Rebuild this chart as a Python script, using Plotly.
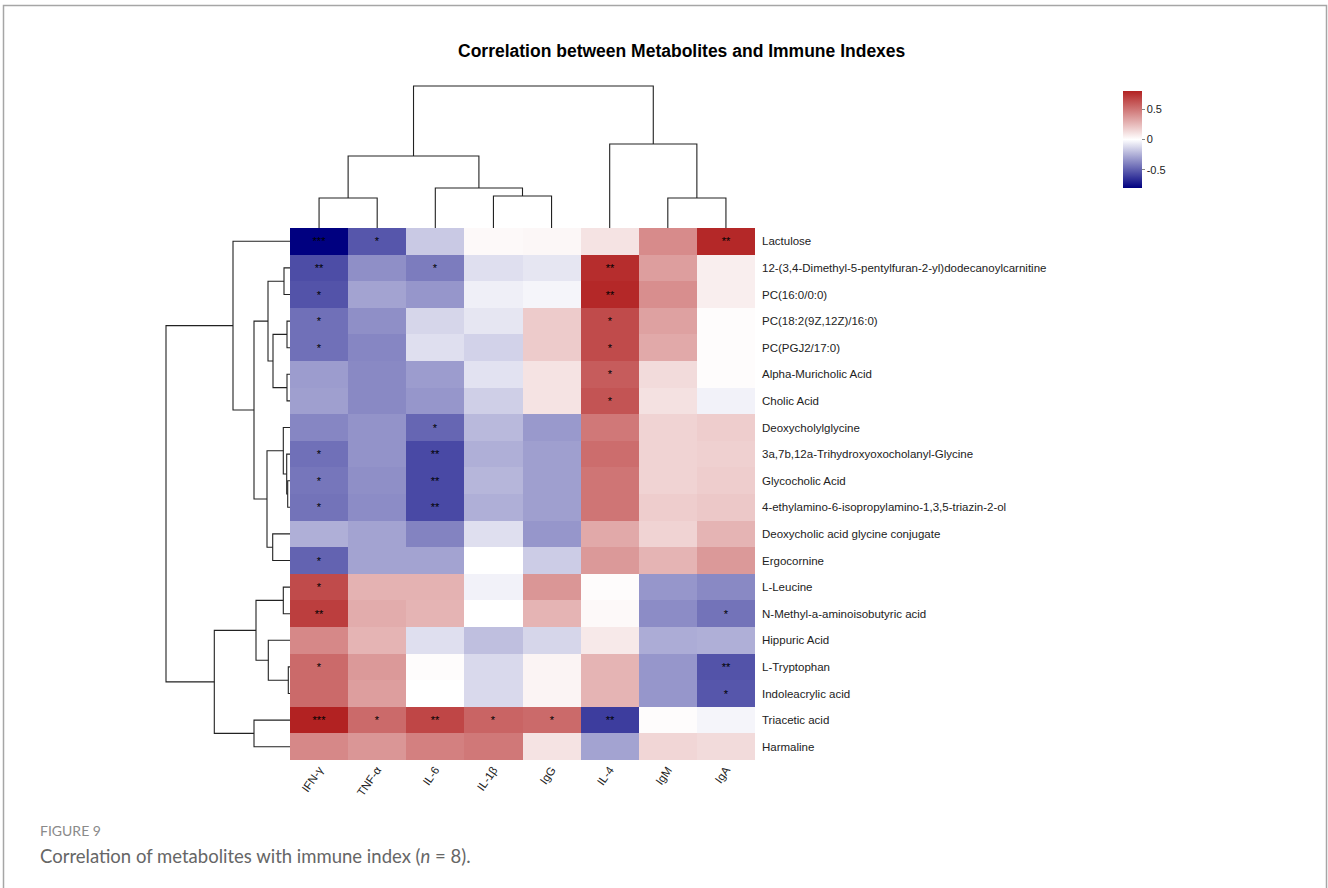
import plotly.graph_objects as go

W, H = 1328, 888

columns = ["IFN-γ", "TNF-α", "IL-6", "IL-1β", "IgG", "IL-4", "IgM", "IgA"]
metabolites = [
    "Lactulose",
    "12-(3,4-Dimethyl-5-pentylfuran-2-yl)dodecanoylcarnitine",
    "PC(16:0/0:0)",
    "PC(18:2(9Z,12Z)/16:0)",
    "PC(PGJ2/17:0)",
    "Alpha-Muricholic Acid",
    "Cholic Acid",
    "Deoxycholylglycine",
    "3a,7b,12a-Trihydroxyoxocholanyl-Glycine",
    "Glycocholic Acid",
    "4-ethylamino-6-isopropylamino-1,3,5-triazin-2-ol",
    "Deoxycholic acid glycine conjugate",
    "Ergocornine",
    "L-Leucine",
    "N-Methyl-a-aminoisobutyric acid",
    "Hippuric Acid",
    "L-Tryptophan",
    "Indoleacrylic acid",
    "Triacetic acid",
    "Harmaline",
]

corr = [
    [-0.80, -0.53, -0.17, 0.02, 0.03, 0.10, 0.42, 0.78],
    [-0.56, -0.35, -0.41, -0.10, -0.08, 0.76, 0.35, 0.06],
    [-0.54, -0.29, -0.33, -0.05, -0.03, 0.78, 0.41, 0.06],
    [-0.45, -0.35, -0.13, -0.08, 0.19, 0.65, 0.34, 0.01],
    [-0.45, -0.38, -0.10, -0.14, 0.19, 0.65, 0.31, 0.01],
    [-0.31, -0.37, -0.31, -0.09, 0.10, 0.59, 0.13, 0.01],
    [-0.30, -0.37, -0.33, -0.15, 0.10, 0.62, 0.11, -0.04],
    [-0.38, -0.34, -0.48, -0.22, -0.32, 0.49, 0.16, 0.18],
    [-0.45, -0.34, -0.57, -0.25, -0.30, 0.53, 0.16, 0.17],
    [-0.43, -0.35, -0.57, -0.23, -0.30, 0.50, 0.16, 0.18],
    [-0.44, -0.36, -0.57, -0.25, -0.30, 0.50, 0.18, 0.20],
    [-0.25, -0.29, -0.39, -0.10, -0.33, 0.31, 0.16, 0.27],
    [-0.49, -0.29, -0.29, 0.00, -0.16, 0.37, 0.27, 0.37],
    [0.65, 0.28, 0.28, -0.04, 0.38, 0.01, -0.33, -0.37],
    [0.70, 0.30, 0.27, 0.00, 0.27, 0.02, -0.36, -0.44],
    [0.43, 0.27, -0.10, -0.20, -0.13, 0.08, -0.26, -0.25],
    [0.54, 0.37, 0.01, -0.12, 0.04, 0.27, -0.33, -0.54],
    [0.54, 0.35, 0.00, -0.12, 0.04, 0.27, -0.33, -0.53],
    [0.80, 0.54, 0.67, 0.56, 0.54, -0.61, 0.01, -0.03],
    [0.43, 0.38, 0.46, 0.49, 0.10, -0.29, 0.15, 0.13],
]

stars = [
    ["***", "*", "", "", "", "", "", "**"],
    ["**", "", "*", "", "", "**", "", ""],
    ["*", "", "", "", "", "**", "", ""],
    ["*", "", "", "", "", "*", "", ""],
    ["*", "", "", "", "", "*", "", ""],
    ["", "", "", "", "", "*", "", ""],
    ["", "", "", "", "", "*", "", ""],
    ["", "", "*", "", "", "", "", ""],
    ["*", "", "**", "", "", "", "", ""],
    ["*", "", "**", "", "", "", "", ""],
    ["*", "", "**", "", "", "", "", ""],
    ["", "", "", "", "", "", "", ""],
    ["*", "", "", "", "", "", "", ""],
    ["*", "", "", "", "", "", "", ""],
    ["**", "", "", "", "", "", "", "*"],
    ["", "", "", "", "", "", "", ""],
    ["*", "", "", "", "", "", "", "**"],
    ["", "", "", "", "", "", "", "*"],
    ["***", "*", "**", "*", "*", "**", "", ""],
    ["", "", "", "", "", "", "", ""],
]

# hierarchical clustering merges: [child_a, child_b, height]; leaves are display indices
row_merges = [
    [1, 2, 6.0], [3, 4, 3.0], [5, 6, 3.0], [21, 22, 17.0], [20, 23, 22.0],
    [9, 10, 2.3], [8, 25, 3.3], [7, 26, 6.7], [11, 12, 17.3], [27, 28, 23.0],
    [24, 29, 36.0], [0, 30, 57.0], [13, 14, 6.7], [16, 17, 1.7], [15, 33, 21.7],
    [32, 34, 34.0], [18, 19, 36.0], [35, 36, 75.7], [31, 37, 124.0],
]
col_merges = [
    [0, 1, 30.0], [3, 4, 32.0], [2, 9, 40.0], [8, 10, 72.0],
    [6, 7, 30.0], [5, 12, 84.0], [11, 13, 142.0],
]


def dendro_segments(n_leaves, merges):
    pos = {i: float(i) for i in range(n_leaves)}
    hgt = {i: 0.0 for i in range(n_leaves)}
    p_list, h_list = [], []
    for k, (a, b, h) in enumerate(merges):
        node = n_leaves + k
        p_list += [pos[a], pos[a], pos[b], pos[b], None]
        h_list += [hgt[a], h, h, hgt[b], None]
        pos[node] = (pos[a] + pos[b]) / 2
        hgt[node] = h
    return p_list, h_list


def px_x(v):
    return v / W


def px_y(v):
    return (H - v) / H


hm_left, hm_right, hm_top, hm_bot = 290, 755, 228, 760
font_main = "Arial, Liberation Sans, sans-serif"

fig = go.Figure()

fig.add_trace(go.Heatmap(
    z=corr,
    x=list(range(len(columns))),
    y=list(range(len(metabolites))),
    text=stars,
    texttemplate="%{text}",
    textfont=dict(size=11, color="black", family=font_main),
    colorscale=[[0.0, "#000080"], [0.5, "#FFFFFF"], [1.0, "#B22222"]],
    zmin=-0.8, zmax=0.8,
    xaxis="x", yaxis="y",
    hoverinfo="skip",
    colorbar=dict(
        thickness=19,
        lenmode="fraction", len=97 / H,
        x=px_x(1123), xanchor="left", xpad=0,
        y=px_y(91), yanchor="top", ypad=0,
        outlinewidth=0,
        tickvals=[-0.5, 0, 0.5], ticktext=["-0.5", "0", "0.5"],
        ticks="outside", ticklen=3, tickcolor="#888888",
        tickfont=dict(size=11, color="#222222", family=font_main),
    ),
))

# column dendrogram (top)
cp, ch = dendro_segments(len(columns), col_merges)
fig.add_trace(go.Scatter(x=cp, y=ch, mode="lines", xaxis="x2", yaxis="y2",
                         line=dict(color="#222222", width=1.1), hoverinfo="skip",
                         showlegend=False))

# row dendrogram (left)
rp, rh = dendro_segments(len(metabolites), row_merges)
fig.add_trace(go.Scatter(x=rh, y=rp, mode="lines", xaxis="x3", yaxis="y3",
                         line=dict(color="#222222", width=1.1), hoverinfo="skip",
                         showlegend=False))

n_c, n_r = len(columns), len(metabolites)
fig.update_layout(
    width=W, height=H,
    margin=dict(l=0, r=0, t=0, b=0),
    paper_bgcolor="white", plot_bgcolor="white",
    showlegend=False,
    font=dict(family=font_main, color="#222222"),
    xaxis=dict(domain=[px_x(hm_left), px_x(hm_right)], range=[-0.5, n_c - 0.5],
               tickvals=list(range(n_c)), ticktext=columns, tickangle=-55,
               ticks="", showgrid=False, zeroline=False, showline=False,
               tickfont=dict(size=11.5, color="#222222"), anchor="y"),
    yaxis=dict(domain=[px_y(hm_bot), px_y(hm_top)], range=[n_r - 0.5, -0.5],
               tickvals=list(range(n_r)), ticktext=metabolites, side="right",
               ticks="", showgrid=False, zeroline=False, showline=False,
               ticklabelstandoff=6,
               tickfont=dict(size=11.5, color="#222222"), anchor="x"),
    xaxis2=dict(domain=[px_x(hm_left), px_x(hm_right)], range=[-0.5, n_c - 0.5],
                visible=False, anchor="y2"),
    yaxis2=dict(domain=[px_y(hm_top), px_y(80)], range=[0, 148],
                visible=False, anchor="x2"),
    xaxis3=dict(domain=[px_x(160), px_x(hm_left)], range=[130, 0],
                visible=False, anchor="y3"),
    yaxis3=dict(domain=[px_y(hm_bot), px_y(hm_top)], range=[n_r - 0.5, -0.5],
                visible=False, anchor="x3"),
    annotations=[
        dict(text="<b>Correlation between Metabolites and Immune Indexes</b>",
             x=px_x(681.5), y=px_y(51), xref="paper", yref="paper",
             xanchor="center", yanchor="middle", showarrow=False,
             font=dict(size=17.5, color="black", family=font_main)),
        dict(text="FIGURE 9", x=px_x(38), y=px_y(830), xref="paper", yref="paper",
             xanchor="left", yanchor="middle", showarrow=False,
             font=dict(size=14, color="#8a8a8a", family="Lato, sans-serif")),
        dict(text="Correlation of metabolites with immune index (<i>n</i> = 8).",
             x=px_x(38), y=px_y(856), xref="paper", yref="paper",
             xanchor="left", yanchor="middle", showarrow=False,
             font=dict(size=18.5, color="#666666", family="Lato, sans-serif")),
    ],
    shapes=[
        dict(type="rect", xref="paper", yref="paper",
             x0=px_x(3.5), x1=px_x(1326.5), y0=-0.2, y1=px_y(5.5),
             line=dict(color="#a6a6a6", width=1.5), fillcolor="rgba(0,0,0,0)",
             layer="below"),
    ],
)

fig.write_html("out.html")
